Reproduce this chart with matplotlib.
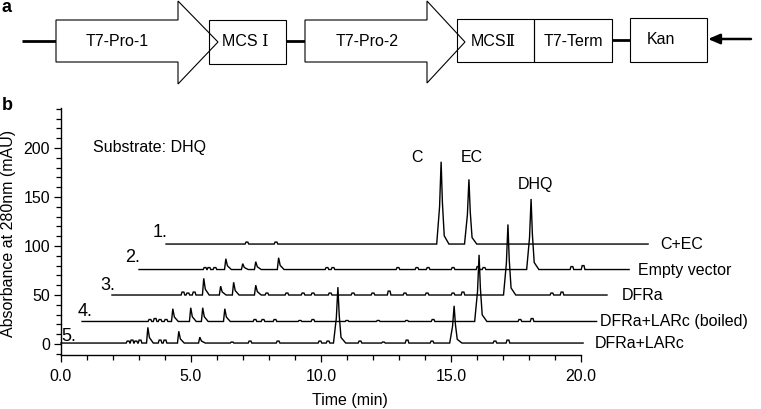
import matplotlib
matplotlib.use("Agg")
import matplotlib.pyplot as plt
from matplotlib.patches import Polygon, Rectangle
from matplotlib.ticker import MultipleLocator, FormatStrFormatter

plt.rcParams['font.family'] = ['Liberation Sans', 'DejaVu Sans']

# ---------------- data (panel b) ----------------
trace_names = ["C+EC", "Empty vector", "DFRa", "DFRa+LARc (boiled)", "DFRa+LARc"]
trace_numbers = ["1.", "2.", "3.", "4.", "5."]
# baseline offsets (mAU) and displayed start/end times (min) of each stacked trace
trace_offsets = [102, 76, 50, 23, 1]
trace_start = [4.04, 3.00, 1.96, 0.81, 0.00]
trace_end = [22.58, 21.85, 21.00, 20.60, 20.08]

# peaks: displayed time (min) and height above baseline (mAU)
peaks_t = [
    [7.15, 8.27, 14.62, 15.69],
    [5.54, 5.69, 5.92, 6.35, 7.00, 7.50, 8.38, 10.23, 10.46, 12.96, 13.69, 14.12,
     15.08, 16.04, 16.27, 18.08, 19.65, 20.08],
    [4.69, 4.88, 5.12, 5.50, 6.15, 6.65, 7.50, 7.92, 8.69, 9.31, 9.69, 10.35, 11.23,
     12.00, 12.62, 13.23, 14.08, 15.08, 15.46, 17.19, 18.88, 19.27],
    [3.42, 3.62, 3.81, 4.04, 4.31, 5.00, 5.46, 6.31, 7.46, 7.77, 8.23, 9.19, 9.69,
     11.0, 12.2, 13.3, 14.31, 16.08, 17.65, 18.12],
    [2.58, 2.73, 2.88, 3.04, 3.35, 3.81, 4.00, 4.54, 5.35, 6.58, 7.27, 8.35, 9.96,
     10.27, 10.65, 11.50, 12.40, 13.31, 14.27, 15.12, 16.69, 17.19],
]
peaks_h = [
    [2, 2, 84, 66],
    [2, 2, 2, 11, 6, 8, 12, 2, 2, 2, 2, 2, 2, 3, 2, 72, 3, 4],
    [3, 2, 3, 17, 9, 13, 10, 2, 2, 2, 2, 2, 2, 2, 4, 2, 2, 2, 3, 72, 2, 3],
    [2, 3, 2, 2, 13, 14, 14, 13, 2, 2, 2, 1, 2, 1, 1, 1, 2, 68, 2, 3],
    [2, 3, 2, 3, 16, 3, 3, 12, 6, 1, 2, 2, 2, 2, 57, 2, 1, 3, 2, 38, 2, 3],
]

peak_labels = ["C", "EC", "DHQ"]
peak_label_x = [13.69, 15.80, 18.23]
peak_label_y = [190, 190, 163]

x_ticks = [0, 5, 10, 15, 20]
y_ticks = [0, 50, 100, 150, 200]


def trace_vertices(t0, t1, base, pts, hts):
    xs, ys = [t0], [base]
    for t, h in sorted(zip(pts, hts)):
        if h >= 30:
            shape = [(-0.17, 0), (-0.06, 0.45), (0, 1), (0.05, 0.5), (0.12, 0.1), (0.30, 0)]
        elif h >= 5:
            shape = [(-0.06, 0), (-0.01, 1), (0.05, 0.35), (0.20, 0)]
        else:
            shape = [(-0.07, 0), (-0.035, 1), (0.035, 1), (0.07, 0)]
        for dx, fy in shape:
            xs.append(t + dx)
            ys.append(base + fy * h)
    xs.append(t1)
    ys.append(base)
    return xs, ys


W, H = 761, 409
fig = plt.figure(figsize=(W / 100, H / 100), dpi=100)

# ---------------- panel a : construct diagram ----------------
axa = fig.add_axes([0, 1 - 92 / H, 1, 92 / H])
axa.set_xlim(0, W)
axa.set_ylim(92, 0)
axa.axis('off')

lw_thin = 0.8
lw_thick = 2.0
axa.plot([22, 56], [41, 41], color='black', lw=lw_thick, solid_capstyle='butt')
axa.plot([286, 305], [41, 41], color='black', lw=lw_thick, solid_capstyle='butt')
axa.plot([612, 630], [40, 40], color='black', lw=lw_thick, solid_capstyle='butt')

arrow1 = [(56, 20), (178, 20), (178, 1), (218, 42), (178, 84), (178, 62), (56, 62)]
arrow2 = [(305, 20), (427, 20), (427, 1), (465, 42), (427, 83), (427, 62), (305, 62)]
for poly in (arrow1, arrow2):
    axa.add_patch(Polygon(poly, closed=True, facecolor='white', edgecolor='black',
                          lw=lw_thin, zorder=2))

boxes = [(209, 20, 77, 44), (457, 19, 77, 43), (534, 19, 78, 43), (630, 18, 77, 44)]
for (bx, by, bw, bh) in boxes:
    axa.add_patch(Rectangle((bx, by), bw, bh, facecolor='none', edgecolor='black',
                            lw=lw_thin, zorder=3))

axa.annotate('', xy=(708, 39), xytext=(751, 39),
             arrowprops=dict(arrowstyle='-|>,head_length=0.7,head_width=0.3',
                             color='black', lw=1.8, shrinkA=0, shrinkB=0))

fs = 11.5
roman = ['Liberation Sans', 'DejaVu Serif', 'Noto Sans CJK SC']
axa.text(117, 41, "T7-Pro-1", ha='center', va='center', fontsize=fs, zorder=4)
axa.text(245, 41, "MCS Ⅰ", ha='center', va='center', fontsize=fs, family=roman, zorder=4)
axa.text(367, 41, "T7-Pro-2", ha='center', va='center', fontsize=fs, zorder=4)
axa.text(493, 41, "MCSⅡ", ha='center', va='center', fontsize=fs, family=roman, zorder=4)
axa.text(573, 41, "T7-Term", ha='center', va='center', fontsize=fs, zorder=4)
axa.text(661, 39, "Kan", ha='center', va='center', fontsize=fs, zorder=4)
axa.text(2, 8, "a", ha='left', va='center', fontsize=13, fontweight='bold')

# ---------------- panel b : chromatograms ----------------
ax = fig.add_axes([61 / W, (H - 355) / H, 520 / W, 247 / H])
ax.set_xlim(0, 20)
ax.set_ylim(-11.2, 240.8)
for s in ('top', 'right'):
    ax.spines[s].set_visible(False)
ax.spines['left'].set_linewidth(1.0)
ax.spines['bottom'].set_linewidth(1.0)

num_x = [3.81, 2.77, 1.81, 0.92, 0.31]
num_y = [114, 88, 60, 33, 7.5]
for i in range(len(trace_names)):
    xs, ys = trace_vertices(trace_start[i], trace_end[i], trace_offsets[i],
                            peaks_t[i], peaks_h[i])
    ax.plot(xs, ys, color='black', lw=1.0, clip_on=False, solid_joinstyle='miter')
    ax.text(num_x[i], num_y[i], trace_numbers[i], ha='center', va='center',
            fontsize=13, clip_on=False)

name_x = [23.03, 22.19, 21.58, 20.73, 20.54]
for i, nm in enumerate(trace_names):
    ax.text(name_x[i], trace_offsets[i] - 0.5, nm, ha='left', va='center',
            fontsize=fs, clip_on=False)

for lab, lx, ly in zip(peak_labels, peak_label_x, peak_label_y):
    ax.text(lx, ly, lab, ha='center', va='center', fontsize=fs)

ax.text(1.23, 200, "Substrate: DHQ", ha='left', va='center', fontsize=fs)

ax.set_xticks(x_ticks)
ax.xaxis.set_major_formatter(FormatStrFormatter('%.1f'))
ax.xaxis.set_minor_locator(MultipleLocator(1))
ax.set_yticks(y_ticks)
ax.yaxis.set_minor_locator(MultipleLocator(10))
ax.tick_params(axis='both', which='major', length=5, width=0.9, labelsize=fs, direction='out')
ax.tick_params(axis='both', which='minor', length=3.5, width=0.9, direction='out')
ax.tick_params(axis='x', which='major', pad=5)
ax.tick_params(axis='y', which='major', pad=3)

ax.set_ylabel("Absorbance at 280nm (mAU)", fontsize=fs)
ax.set_xlabel("Time (min)", fontsize=fs)
ax.xaxis.set_label_coords((350 - 61) / 520, -(393 - 355) / 247)
ax.yaxis.set_label_coords(-(61 - 16) / 520, (355 - 233) / 247)

fig.text(2 / W, 1 - 105 / H, "b", ha='left', va='center', fontsize=13, fontweight='bold')

fig.savefig("out.png", dpi=100)
